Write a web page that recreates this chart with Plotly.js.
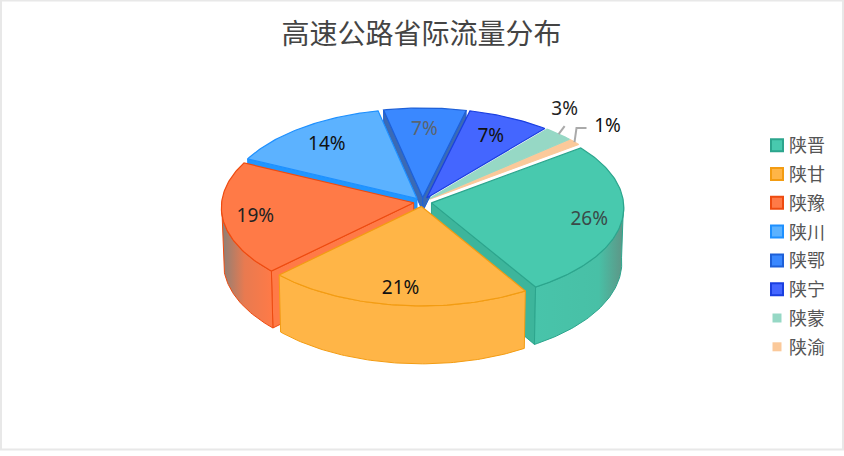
<!DOCTYPE html>
<html><head><meta charset="utf-8">
<script src="https://cdn.plot.ly/plotly-3.0.1.min.js"></script>
<style>html,body{margin:0;padding:0;background:#fff}#c{width:844px;height:456px}</style>
</head><body><div id="c"></div>
<script>
// ---- data ----
var categories = ['陕晋','陕甘','陕豫','陕川','陕鄂','陕宁','陕蒙','陕渝'];
var values = [26.4, 21.2, 19.3, 14.4, 7.2, 7.2, 2.6, 1.1];

// ---- styles ----
var topColors    = ['#48C9AE','#FFB547','#FF7A47','#5CB2FF','#3A88FF','#4466FF','#96D8C5','#FBC99A'];
var borderColors = ['#2CA58D','#F39C12','#EE4B10','#1E90FF','#1E60D8','#1A3FE0','#96D8C5','#FBC99A'];
var edgeColors   = ['#3DB59B','#FFB547','#FF7A47','#2196FF','#3A6AB5','#3A6AB5','#fff','#fff'];
var labelColors  = ['#3a4a48','#111','#222','#111','#5a6470','#111','#222','#111'];
var labelRatios  = [0.83,0.83,0.83,0.78,0.77,0.77,1,1];
var outerStops   = [
  [[0,'#48C4AA'],[0.72,'#48C0A6'],[1,'#5F9485']],
  [[0,'#FFB547'],[1,'#FFB547']],
  [[0,'#8A8078'],[0.45,'#E87A50'],[1,'#FF7A47']],
  null,null,null,null,null
];
var drawOrder = [7,6,4,5,3,0,2,1];
var hasFrontEdge = [false,false,true,true,true,false,false,false];
var hasBackEdge  = [true,false,false,false,true,false,false,false];
var edgeDepth    = [1,1,1,1,0.25,0,0,0];

// ---- projection of a tilted pie on hidden pixel-sized axes ----
var cx=422.6, cy=202, A=192, B=94.3, D=55, K=0.048, EX=0.047, START=-36.8;
function pt(u,v,h){
  var w=1/(1-K*v);
  return [cx+A*u*w*(1-0.01*h), cy+B*v*w+h*D*w];
}
var total=values.reduce(function(a,b){return a+b;},0);
var rad=Math.PI/180, slices=[], acc=START;
values.forEach(function(val){
  var t1=acc, t2=acc+val/total*360; acc=t2;
  var m=(t1+t2)/2;
  slices.push({t1:t1,t2:t2,m:m,ox:EX*Math.cos(m*rad),oy:EX*Math.sin(m*rad)});
});
function rim(s,t,h,r){ r=r===undefined?1:r;
  return pt(s.ox+r*Math.cos(t*rad), s.oy+r*Math.sin(t*rad), h); }
function apex(s,h){ return pt(s.ox,s.oy,h); }
function arc(s,a,b,h){ var out=[],n=Math.max(2,Math.ceil(Math.abs(b-a)));
  for(var i=0;i<=n;i++) out.push(rim(s,a+(b-a)*i/n,h)); return out; }

var traces=[];
function poly(p,fill,line,width,grad){
  var tr={type:'scatter',mode:'lines',x:p.map(function(q){return q[0];}).concat([p[0][0]]),
    y:p.map(function(q){return q[1];}).concat([p[0][1]]),fill:'toself',fillcolor:fill,
    line:{color:line,width:width},hoverinfo:'skip',showlegend:false};
  if(grad) tr.fillgradient=grad;
  traces.push(tr);
}
drawOrder.forEach(function(i){
  var s=slices[i], ec=edgeColors[i], bc=borderColors[i], d=edgeDepth[i];
  if(hasFrontEdge[i]){ // radial wall at start of the slice
    poly([rim(s,s.t1,0),apex(s,0),apex(s,d),rim(s,s.t1,d)],ec,bc,1);
  }
  if(hasBackEdge[i]){ // radial wall at end of the slice
    poly([rim(s,s.t2,0),apex(s,0),apex(s,d),rim(s,s.t2,d)],ec,bc,1);
  }
  var a=Math.max(s.t1,0), b=Math.min(s.t2,180);
  if(outerStops[i] && b>a){
    var top=arc(s,a,b,0), bot=arc(s,b,a,1), all=top.concat(bot);
    var xs=all.map(function(q){return q[0];});
    var lo=Math.min.apply(null,xs), hi=Math.max.apply(null,xs);
    poly(all,topColors[i],bc,1,{type:'horizontal',start:lo,stop:hi,colorscale:outerStops[i]});
  }
  poly([apex(s,0)].concat(arc(s,s.t1,s.t2,0)),topColors[i],bc,1.2);
});

// leader lines of the two small slices
var s6=slices[6], s7=slices[7];
var l6a=rim(s6,s6.m,0,1.0), l6b=[l6a[0]+6,l6a[1]-8];
var l7a=rim(s7,s7.m,0,1.0), l7b=[l7a[0]+2,l7a[1]-14], l7c=[l7a[0]+12,l7a[1]-14];
[[l6a,l6b],[l7a,l7b,l7c]].forEach(function(p){
  traces.push({type:'scatter',mode:'lines',x:p.map(function(q){return q[0];}),y:p.map(function(q){return q[1];}),
    line:{color:'#AAAAAA',width:2},hoverinfo:'skip',showlegend:false});
});

// value labels
var lx=[],ly=[],lt=[];
slices.forEach(function(s,i){
  var q;
  if(i===6) q=[l6b[0],l6b[1]-16];
  else if(i===7) q=[l7c[0]+21,l7c[1]-1];
  else { q=rim(s,s.m,0,labelRatios[i]); q=[q[0],q[1]+2]; }
  lx.push(q[0]);ly.push(q[1]);lt.push(Math.round(values[i])+'%');
});
traces.push({type:'scatter',mode:'text',x:lx,y:ly,text:lt,textposition:'middle center',
  textfont:{family:'"Noto Sans","Noto Sans CJK SC",sans-serif',size:19,color:labelColors},
  hoverinfo:'skip',showlegend:false,cliponaxis:false});

// legend
categories.forEach(function(c,i){
  var small=i>=6;
  traces.push({type:'scatter',mode:'markers',x:[null],y:[null],name:c,legendgroup:c,
    marker:{symbol:'square',size:small?9:12,color:topColors[i],
      line:{color:borderColors[i],width:small?0:2}}});
});

var layout={
  width:844,height:456,margin:{l:0,r:0,t:0,b:0},
  paper_bgcolor:'#fff',plot_bgcolor:'#fff',
  title:{text:'高速公路省际流量分布',x:0.4995,y:0.925,xanchor:'center',yanchor:'middle',
    font:{family:'"Noto Sans CJK SC",sans-serif',size:28,color:'#444'}},
  xaxis:{range:[0,844],visible:false,fixedrange:true},
  yaxis:{range:[456,0],visible:false,fixedrange:true},
  legend:{x:749/844,y:1-127/456,xanchor:'left',yanchor:'top',tracegroupgap:2.4,itemwidth:30,
    bgcolor:'rgba(0,0,0,0)',font:{family:'"Noto Sans CJK SC",sans-serif',size:18,color:'#555'}},
  shapes:[{type:'rect',xref:'x',yref:'y',x0:1,x1:843,y0:0.5,y1:449.5,line:{color:'#E8E8E8',width:2},layer:'below'}]
};
Plotly.newPlot('c',traces,layout,{displayModeBar:false,staticPlot:true}).then(function(){
  // swatches sit closer to their names than the default legend spacing
  document.querySelectorAll('#c .legend .legendsymbols').forEach(function(g){
    g.setAttribute('transform','translate(8,0)');
  });
});
</script>
</body></html>
